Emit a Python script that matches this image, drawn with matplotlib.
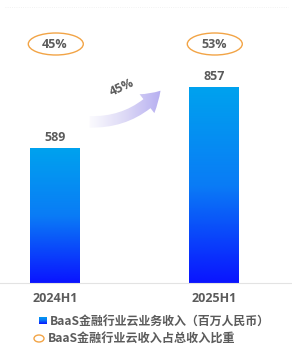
import numpy as np
import matplotlib
matplotlib.use("Agg")
import matplotlib.pyplot as plt
from matplotlib.patches import Ellipse, FancyArrowPatch
from matplotlib.colors import LinearSegmentedColormap

# ---- data ----
categories = ["2024H1", "2025H1"]
revenue = [589, 857]            # BaaS金融行业云业务收入（百万人民币）
share_labels = ["45%", "53%"]   # BaaS金融行业云收入占总收入比重
growth_label = "45%"
legend_labels = ["BaaS金融行业云业务收入（百万人民币）", "BaaS金融行业云收入占总收入比重"]

W, H = 292, 361
fig = plt.figure(figsize=(W / 100, H / 100), dpi=100)
fig.patch.set_facecolor("white")

x_unit = 159.0
left_px = 55 - 0.3 * x_unit
ax_w_px = 1.6 * x_unit
base_px = 283
ymax = 1150
px_per_val = 196.0 / 857
ax_h_px = ymax * px_per_val
ax = fig.add_axes([left_px / W, (H - base_px) / H, ax_w_px / W, ax_h_px / H])
ax.set_xlim(-0.3, 1.3)
ax.set_ylim(0, ymax)
ax.axis("off")

grad_cmap = LinearSegmentedColormap.from_list("g", ["#0a14ff", "#0a7cf6", "#00a2ee"])
x = np.arange(len(categories))
bar_w = 50 / x_unit
bars = ax.bar(x, revenue, width=bar_w, color="none", edgecolor="none")
grad = np.linspace(0, 1, 256).reshape(-1, 1)
for b in bars:
    x0 = b.get_x()
    h = b.get_height()
    im = ax.imshow(grad, extent=(x0, x0 + b.get_width(), 0, h), origin="lower",
                   cmap=grad_cmap, aspect="auto", zorder=2)
    im.set_clip_path(b)

num_font = dict(family=["Open Sans", "DejaVu Sans"], weight="bold", color="#5b5b5b")
for xi, v in zip(x, revenue):
    ax.text(xi, v + 18, f"{v}", ha="center", va="bottom", fontsize=9, **num_font)

# share ellipses
ell_w = 55 / x_unit
ell_h = 22 / px_per_val
ell_y = (base_px - 44) / px_per_val
for xi, s in zip(x, share_labels):
    e = Ellipse((xi + 0.005, ell_y), ell_w, ell_h, facecolor="none",
                edgecolor="#f2a446", lw=1.0, clip_on=False)
    ax.add_patch(e)
    ax.text(xi, ell_y, s, ha="center", va="center", fontsize=9, **num_font)

# growth arrow
arrow = FancyArrowPatch((0.2, 705), (0.675, 850),
                        connectionstyle="arc3,rad=0.25",
                        arrowstyle="simple,head_length=0.9,head_width=1.15,tail_width=0.55",
                        mutation_scale=15, facecolor="none", edgecolor="none", zorder=3)
ax.add_patch(arrow)
acmap = LinearSegmentedColormap.from_list("a", ["#ffffff", "#dcd8f6", "#b0a8f0"])
agrad = np.linspace(0, 1, 256).reshape(1, -1)
aim = ax.imshow(agrad, extent=(0.19, 0.7, 640, 920), cmap=acmap, aspect="auto", zorder=3)
aim.set_clip_path(arrow)
ax.text(0.42, 855, growth_label, ha="center", va="center", rotation=25,
        fontsize=9, **num_font)

ax.set_xlim(-0.3, 1.3)
ax.set_ylim(0, ymax)

# baseline and faint top line
fig.add_artist(plt.Line2D([0, 1], [(H - base_px) / H] * 2, color="#e3e3e3", lw=0.8))
fig.add_artist(plt.Line2D([5 / W, 288 / W], [(H - 7) / H] * 2, color="#eeeeee", lw=0.6, ls=":"))

# category labels
for xi, c in zip(x, categories):
    ax.text(xi, -15 / px_per_val, c, ha="center", va="center", fontsize=9,
            clip_on=False, **num_font)

# manual legend
cjk = dict(family=["Noto Sans CJK SC", "DejaVu Sans"], weight="bold", color="#5b5b5b")
sq = fig.add_axes([39 / W, (H - 324) / H, 7.5 / W, 7.5 / H])
sq.imshow(grad, cmap=grad_cmap, origin="lower", aspect="auto", extent=(0, 1, 0, 1))
sq.axis("off")
fig.add_artist(Ellipse((39 / W, (H - 338.5) / H), 10 / W, 7 / H, facecolor="none",
                       edgecolor="#f2a446", lw=1.0, transform=fig.transFigure))
fig.text(49.5 / W, (H - 321) / H, legend_labels[0], ha="left", va="center", fontsize=8.6, **cjk)
fig.text(48 / W, (H - 338.5) / H, legend_labels[1], ha="left", va="center", fontsize=8.7, **cjk)

fig.savefig("out.png", dpi=100, facecolor="white")
